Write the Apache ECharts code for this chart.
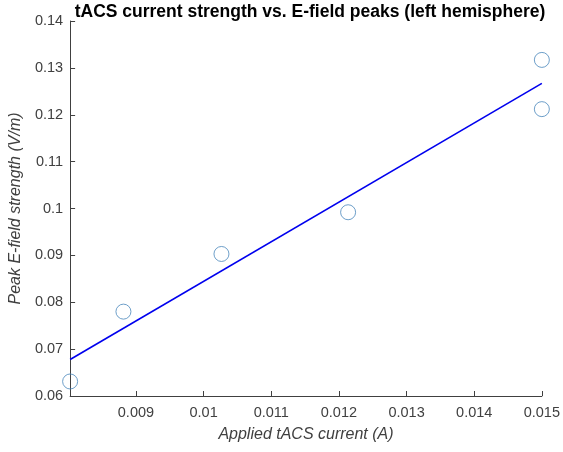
<!DOCTYPE html>
<html>
<head>
<meta charset="utf-8">
<script src="https://cdn.jsdelivr.net/npm/echarts@6/dist/echarts.min.js"></script>
<style>
  html, body { margin: 0; padding: 0; background: #fff; }
  #chart { width: 563px; height: 452px; }
</style>
</head>
<body>
<div id="chart"></div>
<script>
// measured points (current in A, peak field in V/m)
const currentA = [0.008027, 0.008815, 0.010264, 0.012136, 0.015, 0.015];
const peakField = [0.0631, 0.0780, 0.0903, 0.0992, 0.1317, 0.1212];
// linear fit end points
const fitX = [0.008027, 0.015];
const fitY = [0.0678, 0.1267];
// tick labels
const xTicks = [0.009, 0.01, 0.011, 0.012, 0.013, 0.014, 0.015];
const yTicks = [0.06, 0.07, 0.08, 0.09, 0.1, 0.11, 0.12, 0.13, 0.14];

const fmt = v => String(parseFloat(v.toFixed(4)));
const axisColor = '#404040';
const fontFamily = 'Liberation Sans, Arial, sans-serif';

const chart = echarts.init(document.getElementById('chart'));
const option = {
  animation: false,
  title: {
    text: 'tACS current strength vs. E-field peaks (left hemisphere)',
    left: 305,
    textAlign: 'center',
    top: -2,
    textStyle: { fontSize: 17.5, fontWeight: 'bold', color: '#000', fontFamily: fontFamily }
  },
  grid: { left: 66, right: 19, top: 21, bottom: 56 },
  xAxis: {
    type: 'value',
    min: 0.008027,
    max: 0.015,
    name: 'Applied tACS current (A)',
    nameLocation: 'middle',
    nameGap: 31,
    nameTextStyle: { fontStyle: 'italic', fontSize: 16, color: axisColor, fontFamily: fontFamily },
    axisLine: { show: true, lineStyle: { color: axisColor, width: 1 } },
    axisTick: { show: true, inside: true, length: 5, customValues: xTicks, lineStyle: { color: axisColor } },
    axisLabel: { customValues: xTicks, formatter: fmt, fontSize: 14.5, color: axisColor, fontFamily: fontFamily, margin: 9 },
    splitLine: { show: false }
  },
  yAxis: {
    type: 'value',
    min: 0.06,
    max: 0.14,
    interval: 0.01,
    name: 'Peak E-field strength (V/m)',
    nameLocation: 'middle',
    nameGap: 43,
    nameTextStyle: { fontStyle: 'italic', fontSize: 16, color: axisColor, fontFamily: fontFamily },
    axisLine: { show: true, lineStyle: { color: axisColor, width: 1 } },
    axisTick: { show: true, inside: true, length: 5, customValues: yTicks, lineStyle: { color: axisColor } },
    axisLabel: { customValues: yTicks, formatter: fmt, fontSize: 14.5, color: axisColor, fontFamily: fontFamily, margin: 7 },
    splitLine: { show: false }
  },
  series: [
    {
      type: 'scatter',
      data: currentA.map((x, i) => [x, peakField[i]]),
      symbol: 'circle',
      symbolSize: 15,
      clip: false,
      itemStyle: { color: 'rgba(255,255,255,0)', borderColor: '#4a87bc', borderWidth: 1 },
      z: 3
    },
    {
      type: 'line',
      data: fitX.map((x, i) => [x, fitY[i]]),
      showSymbol: false,
      lineStyle: { color: '#0000ee', width: 1.6 },
      z: 2
    }
  ]
};
chart.setOption(option);
</script>
</body>
</html>
